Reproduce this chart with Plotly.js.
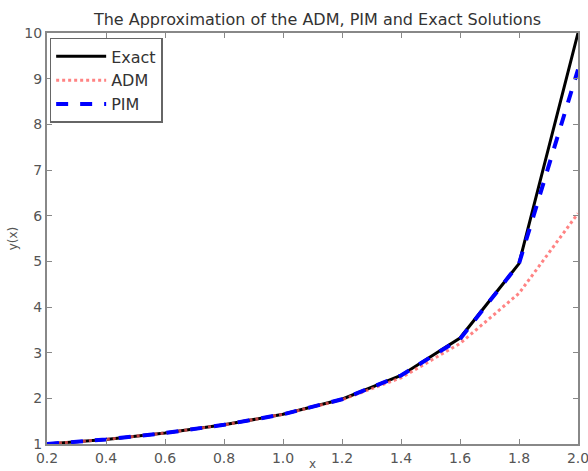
<!DOCTYPE html>
<html><head><meta charset="utf-8">
<script src="https://cdn.plot.ly/plotly-3.0.1.min.js"></script>
<style>html,body{margin:0;padding:0;background:#fff}#chart{width:588px;height:471px}</style>
</head><body><div id="chart"></div>
<script>
var xValues = [0.2, 0.4, 0.6, 0.8, 1.0, 1.2, 1.4, 1.6, 1.8, 2.0];
var exactValues = [1.0, 1.1, 1.24, 1.42, 1.65, 1.98, 2.5, 3.32, 4.95, 10.0];
var admValues = [1.0, 1.1, 1.24, 1.42, 1.65, 1.97, 2.45, 3.2, 4.3, 6.05];
var pimValues = [1.0, 1.1, 1.24, 1.42, 1.65, 1.98, 2.5, 3.3, 4.95, 9.2];
var xTicks = [0.2, 0.4, 0.6, 0.8, 1.0, 1.2, 1.4, 1.6, 1.8, 2.0];
var xTickText = ['0.2','0.4','0.6','0.8','1.0','1.2','1.4','1.6','1.8','2.0'];
var yTicks = [1,2,3,4,5,6,7,8,9,10];

var traces = [
  {x: xValues, y: exactValues, name: 'Exact', mode: 'lines', line: {color: '#000', width: 3}},
  {x: xValues, y: admValues, name: 'ADM', mode: 'lines', line: {color: 'rgba(255,90,90,0.75)', width: 3, dash: 'dot'}},
  {x: xValues, y: pimValues, name: 'PIM', mode: 'lines', line: {color: '#0000ff', width: 4, dash: 'dash'}}
];
var axisCommon = {
  showgrid: false, zeroline: false, showline: true, mirror: 'ticks',
  linecolor: '#888', linewidth: 2, ticks: 'inside', ticklen: 5, tickcolor: '#888',
  ticklabeloverflow: 'allow',
  tickfont: {family: 'DejaVu Sans, sans-serif', size: 14, color: '#555'}
};
var layout = {
  width: 588, height: 471,
  margin: {l: 47, r: 10, t: 33, b: 27},
  paper_bgcolor: '#fff', plot_bgcolor: '#fff',
  title: {text: 'The Approximation of the ADM, PIM and Exact Solutions', x: 0.54, xanchor: 'center', y: 0.958, yanchor: 'middle',
          font: {family: 'DejaVu Sans, sans-serif', size: 16, color: '#333'}},
  xaxis: Object.assign({}, axisCommon, {range: [0.2, 2.0], tickvals: xTicks, ticktext: xTickText,
          title: {text: 'x', standoff: 1, font: {family: 'DejaVu Sans, sans-serif', size: 12, color: '#555'}}}),
  yaxis: Object.assign({}, axisCommon, {range: [1, 10], tickvals: yTicks,
          title: {text: 'y(x)', standoff: 4, font: {family: 'DejaVu Sans, sans-serif', size: 12, color: '#555'}}}),
  showlegend: true,
  legend: {x: 0.005, y: 0.988, xanchor: 'left', yanchor: 'top', bgcolor: '#fff', bordercolor: '#666', borderwidth: 1.5,
           font: {family: 'DejaVu Sans, sans-serif', size: 16, color: '#333'}, itemwidth: 50, tracegroupgap: 2}
};
Plotly.newPlot('chart', traces, layout, {displayModeBar: false, staticPlot: true});
</script></body></html>
